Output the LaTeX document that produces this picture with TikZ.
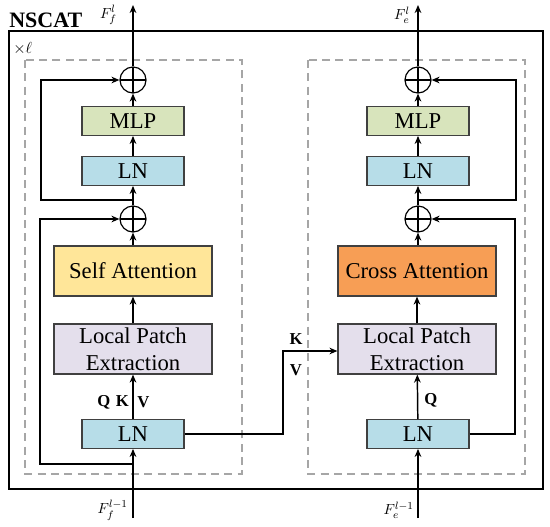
\documentclass[tikz,border=0pt]{standalone}
\usepackage{fontspec}
\setmainfont{Liberation Serif}
\usepackage{tikz}
\usetikzlibrary{positioning,arrows.meta}
\definecolor{MLPGreen}{HTML}{D8E4BC}
\definecolor{LNBlue}{HTML}{B7DDE8}
\definecolor{SelfYellow}{HTML}{FFE699}
\definecolor{CrossOrange}{HTML}{F79E55}
\definecolor{PatchLilac}{HTML}{E4DFEC}
\definecolor{BoxEdge}{HTML}{404040}
\definecolor{DashGray}{HTML}{A6A6A6}
\tikzset{
  blk/.style={draw=BoxEdge,line width=0.9pt,font=\fontsize{17}{20}\selectfont,
    inner sep=0pt,align=center},
  smallblk/.style={blk,minimum width=76.5pt,minimum height=21.5pt},
  bigblk/.style={blk,minimum width=118.5pt,minimum height=37.5pt},
  addop/.style={circle,draw,line width=0.9pt,minimum size=19.5pt,inner sep=0pt,
    path picture={\draw[line width=0.9pt] (path picture bounding box.north)--(path picture bounding box.south)
      (path picture bounding box.west)--(path picture bounding box.east);}},
  wire/.style={line width=1.1pt},
  dashbox/.style={DashGray,line width=1pt,dash pattern=on 6pt off 4pt},
  qkv/.style={font=\bfseries\fontsize{12.5}{13}\selectfont,inner sep=0pt},
  feat/.style={font=\fontsize{11}{12}\selectfont,inner sep=0pt}
}
\begin{document}
\begin{tikzpicture}[x=0.75pt,y=-0.75pt,>={Stealth[length=6pt,width=5pt]}]
    \useasboundingbox (0,0) rectangle (550,526);
    % frames
    \draw[line width=1.4pt] (9,31) rectangle (543,489);
    \draw[dashbox] (25,60) rectangle (242,474);
    \draw[dashbox] (308,60) rectangle (525,474);
    \node[font=\bfseries\fontsize{16.5}{17}\selectfont,inner sep=0pt,anchor=base west]
      (title) at (9,27) {NSCAT};
    \node[font=\fontsize{12}{13}\selectfont,inner sep=0pt,anchor=west] (rep) at (13,49) {$\times\ell$};
    % left branch
    \node[addop] (lplusA) at (133,80) {};
    \node[smallblk,fill=MLPGreen] (lmlp) at (133,121) {MLP};
    \node[smallblk,fill=LNBlue] (llnA) at (133,171) {LN};
    \node[addop] (lplusB) at (133,219) {};
    \node[bigblk,fill=SelfYellow] (lself) at (133,271) {Self Attention};
    \node[bigblk,fill=PatchLilac] (llpe) at (133,349) {Local Patch\\Extraction};
    \node[smallblk,fill=LNBlue] (llnB) at (133,434) {LN};
    % right branch
    \node[addop] (rplusA) at (418,80) {};
    \node[smallblk,fill=MLPGreen] (rmlp) at (418,121) {MLP};
    \node[smallblk,fill=LNBlue] (rlnA) at (418,171) {LN};
    \node[addop] (rplusB) at (418,219) {};
    \node[bigblk,fill=CrossOrange] (rcross) at (417,271) {Cross Attention};
    \node[bigblk,fill=PatchLilac] (rlpe) at (417,349) {Local Patch\\Extraction};
    \node[smallblk,fill=LNBlue] (rlnB) at (418,434) {LN};
    % ends and corners
    \coordinate (lin) at (133,518);   \coordinate (lout) at (133,5);
    \coordinate (rin) at (418,518);   \coordinate (rout) at (418,5);
    \coordinate (lsplitA) at (133,200); \coordinate (lcornerA) at (41,80);
    \coordinate (lsplitB) at (133,464); \coordinate (lcornerB) at (40,219);
    \coordinate (rsplitA) at (418,200); \coordinate (rcornerA) at (516,80);
    \coordinate (rcornerB) at (515,219);
    \coordinate (kvcorner) at (283,351);
    % main paths
    \draw[wire,->] (lin) -- (llnB);
    \draw[wire,->] (llnB) -- (llpe);
    \draw[wire,->] (llpe) -- (lself);
    \draw[wire,->] (lself) -- (lplusB);
    \draw[wire,->] (lplusB) -- (llnA);
    \draw[wire,->] (llnA) -- (lmlp);
    \draw[wire,->] (lmlp) -- (lplusA);
    \draw[wire,->] (lplusA) -- (lout);
    \draw[wire,->] (rin) -- (rlnB);
    \draw[wire,->] (rlnB) -- (rlpe);
    \draw[wire,->] (rlpe) -- (rcross);
    \draw[wire,->] (rcross.north -| rplusB) -- (rplusB);
    \draw[wire,->] (rplusB) -- (rlnA);
    \draw[wire,->] (rlnA) -- (rmlp);
    \draw[wire,->] (rmlp) -- (rplusA);
    \draw[wire,->] (rplusA) -- (rout);
    % residuals
    \draw[wire,->] (lsplitA) -| (lcornerA) -- (lplusA);
    \draw[wire,->] (lsplitB) -| (lcornerB) -- (lplusB);
    \draw[wire,->] (rsplitA) -| (rcornerA) -- (rplusA);
    \draw[wire,->] (rlnB) -| (rcornerB) -- (rplusB);
    % key/value link
    \draw[wire,->] (llnB) -| (kvcorner) -- (kvcorner -| rlpe.west);
    % labels
    \node[qkv,anchor=east] (lqk) at (129,402) {Q\,\,K};
    \node[qkv,anchor=west] (lv) at (137,402) {V};
    \node[qkv,anchor=west] (rq) at (424,400) {Q};
    \node[qkv] (rk) at (296,339) {K};
    \node[qkv] (rv) at (296,370) {V};
    \node[feat,anchor=east] (ftop) at (117,15) {$F_f^{l}$};
    \node[feat,anchor=east] (etop) at (410,15) {$F_e^{l}$};
    \node[feat,anchor=east] (fbot) at (128,510) {$F_f^{l-1}$};
    \node[feat,anchor=east] (ebot) at (414,510) {$F_e^{l-1}$};
  \end{tikzpicture}
\end{document}
